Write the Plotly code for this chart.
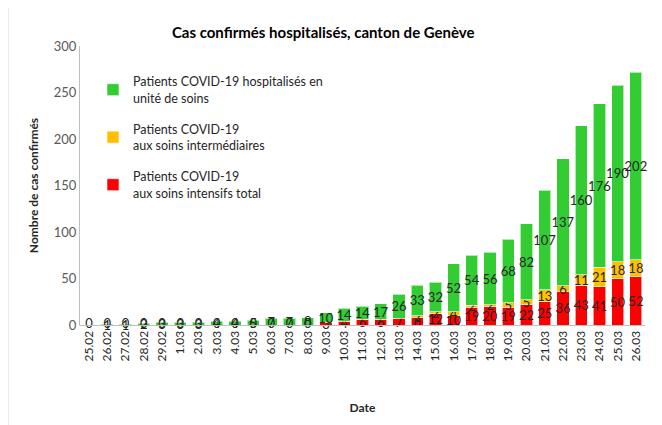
import plotly.graph_objects as go

dates = ["25.02", "26.02", "27.02", "28.02", "29.02", "1.03", "2.03", "3.03", "4.03", "5.03",
         "6.03", "7.03", "8.03", "9.03", "10.03", "11.03", "12.03", "13.03", "14.03", "15.03",
         "16.03", "17.03", "18.03", "19.03", "20.03", "21.03", "22.03", "23.03", "24.03", "25.03", "26.03"]

soins_intensifs = [0, 0, 0, 0, 0, 0, 0, 0, 0, 0, 0, 0, 0, 3, 4, 6, 6, 7, 8, 12,
                   10, 19, 20, 19, 22, 25, 36, 43, 41, 50, 52]
soins_intermediaires = [None] * 18 + [2, 2, 4, 2, 2, 5, 5, 13, 6, 11, 21, 18, 18]
unite_de_soins = [0, 1, 1, 2, 3, 3, 3, 4, 4, 5, 7, 7, 8, 10, 14, 14, 17, 26, 33, 32,
                  52, 54, 56, 68, 82, 107, 137, 160, 176, 190, 202]

FONT = "Lato, 'Open Sans', sans-serif"
label_font = dict(family=FONT, size=13, color="#262626")


def txt(vals):
    return ["" if v is None else str(v) for v in vals]


common = dict(textposition="inside", insidetextanchor="middle", textangle=0,
              constraintext="none", textfont=label_font, hoverinfo="skip",
              marker_line=dict(color="rgba(255,255,255,0.6)", width=1), cliponaxis=False)

fig = go.Figure()
fig.add_trace(go.Bar(x=dates, y=soins_intensifs, text=txt(soins_intensifs),
                     name="Patients COVID-19<br>aux soins intensifs total",
                     marker_color="#FF0000", legendgroup="c", legendrank=3, **common))
fig.add_trace(go.Bar(x=dates, y=soins_intermediaires, text=txt(soins_intermediaires),
                     name="Patients COVID-19<br>aux soins intermédiaires",
                     marker_color="#FFC000", legendgroup="b", legendrank=2, **common))
fig.add_trace(go.Bar(x=dates, y=unite_de_soins, text=txt(unite_de_soins),
                     name="Patients COVID-19 hospitalisés en<br>unité de soins",
                     marker_color="#33CC33", legendgroup="a", legendrank=1, **common))

# zero-valued labels (plotly does not draw text on zero-height bars)
zero_x = [d for d, v in zip(dates, soins_intensifs) if v == 0]
zero_y = [v for v in soins_intensifs if v == 0]
fig.add_trace(go.Scatter(x=zero_x, y=zero_y, mode="text", text=[str(v) for v in zero_y],
                         textposition="middle center", textfont=label_font,
                         showlegend=False, hoverinfo="skip", cliponaxis=False))

fig.update_layout(
    width=654, height=417,
    margin=dict(l=72, r=17, t=38, b=100),
    paper_bgcolor="white", plot_bgcolor="white",
    barmode="stack", bargap=0.33,
    font=dict(family=FONT, size=12, color="#595959"),
    title=dict(text="<b>Cas confirmés hospitalisés, canton de Genève</b>",
               x=0.482, xanchor="center", y=0.94, yanchor="middle",
               font=dict(family=FONT, size=15, color="#000000")),
    showlegend=True,
    legend=dict(x=0.023, y=0.925, xanchor="left", yanchor="top",
                traceorder="grouped", tracegroupgap=12,
                bgcolor="rgba(0,0,0,0)", itemwidth=30,
                font=dict(family=FONT, size=12.5, color="#262626")),
    xaxis=dict(type="category", range=[-0.5, len(dates) - 0.5], tickangle=-90,
               showgrid=False, showline=True,
               linecolor="#BFBFBF", linewidth=1, ticks="", automargin=False,
               tickfont=dict(family=FONT, size=12, color="#262626"),
               title=dict(text="<b>Date</b>", standoff=43,
                          font=dict(family=FONT, size=12, color="#262626"))),
    yaxis=dict(range=[0, 300], dtick=50, showgrid=False, showline=True,
               linecolor="#BFBFBF", linewidth=1, ticks="", zeroline=False, automargin=False,
               tickfont=dict(family=FONT, size=13, color="#595959"),
               title=dict(text="<b>Nombre de cas confirmés</b>", standoff=12,
                          font=dict(family=FONT, size=12, color="#262626"))),
    shapes=[
        dict(type="line", xref="paper", yref="paper", x0=-0.1274, x1=-0.1274, y0=-0.4, y1=1.2,
             line=dict(color="#D9D9D9", width=1)),
        dict(type="line", xref="paper", yref="paper", x0=1.0212, x1=1.0212, y0=-0.4, y1=1.2,
             line=dict(color="#D9D9D9", width=1)),
    ],
)

fig.write_html("out.html")
